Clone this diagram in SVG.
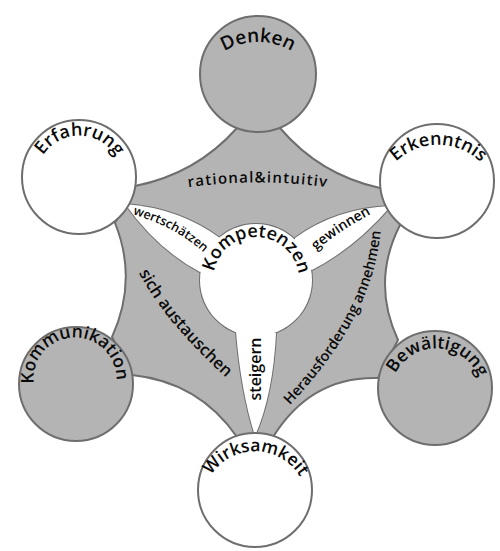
<svg xmlns="http://www.w3.org/2000/svg" xmlns:xlink="http://www.w3.org/1999/xlink" width="500" height="551" viewBox="0 0 500 551">
<style>
.gray{fill:#b4b4b4;stroke:#6e6e6e;stroke-width:2}
.white{fill:#ffffff;stroke:#6e6e6e;stroke-width:2}
.wfill{fill:#ffffff;stroke:none}
.node{stroke:#6e6e6e;stroke-width:2}
.lbl{font-family:"Open Sans","DejaVu Sans",sans-serif;fill:#0a0a0a;font-weight:600}
</style>
<defs>
<path id="pDenken" d="M192.25,113.75 A66,66 0 1 1 323.75,113.75"/>
<path id="pErfahrung" d="M36.6,181 A42.5,42.5 0 1 1 121.3,182.4"/>
<path id="pErkenntnis" d="M377.2,210.8 A61,61 0 1 1 498.7,211.8"/>
<path id="pKommunikation" d="M40,401.3 A41.5,41.5 0 1 1 111.8,398.2"/>
<path id="pBewaeltigung" d="M392.6,407.5 A45.5,45.5 0 1 1 478,411.6"/>
<path id="pWirksamkeit" d="M203.15,512.2 A52.5,52.5 0 1 1 306.5,514"/>
<path id="pKompetenzen" d="M215.2,293.6 A43,43 0 1 1 296,295.8"/>
<path id="pRational" d="M170,190 Q258,175 346,190"/>
<path id="pWert" d="M135,215 Q175,227 202,251"/>
<path id="pGewinnen" d="M311,256 Q328,237 378,210"/>
<path id="pSich" d="M136,267 Q160,318 231,382"/>
<path id="pHeraus" d="M286,409 Q375,318 381,226"/>
</defs>

<g id="band">
<path class="gray" d="M237,128 Q196,174 135,186 L125,204 L115,223 Q138,280 112,337 L132,375 Q199,382 237,437 L273,437 Q311,376 378,378 L398,340 Q371,282 400,225 L391,206 L380,188 Q320,175 280,128 Z"/>
</g>

<g id="connectors">
<g id="wedge-strokes">
<path class="white" d="M125,204 Q179,208 220,238 L230,260 L200,272 Q158,250 125,204 Z"/>
<path class="white" d="M391,206 Q336,208 295,238 L290,260 L312,270 Q355,248 391,206 Z"/>
<path class="white" d="M236,332 Q241,392 255,436 Q273,395 276,333 Z"/>
<circle class="white" cx="256" cy="280" r="56"/>
</g>
<g id="wedge-fills">
<path class="wfill" d="M125,204 Q179,208 220,238 L230,260 L200,272 Q158,250 125,204 Z"/>
<path class="wfill" d="M391,206 Q336,208 295,238 L290,260 L312,270 Q355,248 391,206 Z"/>
<path class="wfill" d="M236,332 Q241,392 255,436 Q273,395 276,333 Z"/>
<circle class="wfill" cx="256" cy="280" r="56"/>
</g>
<text class="lbl" font-size="15" letter-spacing="1.2"><textPath xlink:href="#pRational" href="#pRational" startOffset="50%" text-anchor="middle">rational&amp;intuitiv</textPath></text>
<text class="lbl" font-size="12.5"><textPath xlink:href="#pWert" href="#pWert" startOffset="50%" text-anchor="middle">wertschätzen</textPath></text>
<text class="lbl" font-size="14"><textPath xlink:href="#pGewinnen" href="#pGewinnen" startOffset="50%" text-anchor="middle">gewinnen</textPath></text>
<text class="lbl" font-size="16.5"><textPath xlink:href="#pSich" href="#pSich" startOffset="50%" text-anchor="middle">sich austauschen</textPath></text>
<text class="lbl" font-size="14.5"><textPath xlink:href="#pHeraus" href="#pHeraus" startOffset="50%" text-anchor="middle">Herausforderung annehmen</textPath></text>
<text class="lbl" font-size="16" text-anchor="middle" transform="translate(261,369) rotate(-90)">steigern</text>
</g>

<g id="kompetenzen">
<text class="lbl" font-size="18"><textPath xlink:href="#pKompetenzen" href="#pKompetenzen" startOffset="50%" text-anchor="middle">Kompetenzen</textPath></text>
</g>

<g id="denken">
<circle class="node" cx="258" cy="74" r="58" fill="#b4b4b4"/>
<text class="lbl" font-size="19"><textPath xlink:href="#pDenken" href="#pDenken" startOffset="50%" text-anchor="middle">Denken</textPath></text>
</g>
<g id="erfahrung">
<circle class="node" cx="79" cy="177" r="57" fill="#ffffff"/>
<text class="lbl" font-size="18"><textPath xlink:href="#pErfahrung" href="#pErfahrung" startOffset="50%" text-anchor="middle">Erfahrung</textPath></text>
</g>
<g id="erkenntnis">
<circle class="node" cx="437" cy="181" r="57" fill="#ffffff"/>
<text class="lbl" font-size="18"><textPath xlink:href="#pErkenntnis" href="#pErkenntnis" startOffset="50%" text-anchor="middle">Erkenntnis</textPath></text>
</g>
<g id="kommunikation">
<circle class="node" cx="76" cy="384" r="57" fill="#b4b4b4"/>
<text class="lbl" font-size="17.5"><textPath xlink:href="#pKommunikation" href="#pKommunikation" startOffset="50%" text-anchor="middle">Kommunikation</textPath></text>
</g>
<g id="bewaeltigung">
<circle class="node" cx="435" cy="388" r="57" fill="#b4b4b4"/>
<text class="lbl" font-size="17.5"><textPath xlink:href="#pBewaeltigung" href="#pBewaeltigung" startOffset="50%" text-anchor="middle">Bewältigung</textPath></text>
</g>
<g id="wirksamkeit">
<circle class="node" cx="255" cy="490" r="57" fill="#ffffff"/>
<text class="lbl" font-size="17.5"><textPath xlink:href="#pWirksamkeit" href="#pWirksamkeit" startOffset="50%" text-anchor="middle">Wirksamkeit</textPath></text>
</g>
</svg>
